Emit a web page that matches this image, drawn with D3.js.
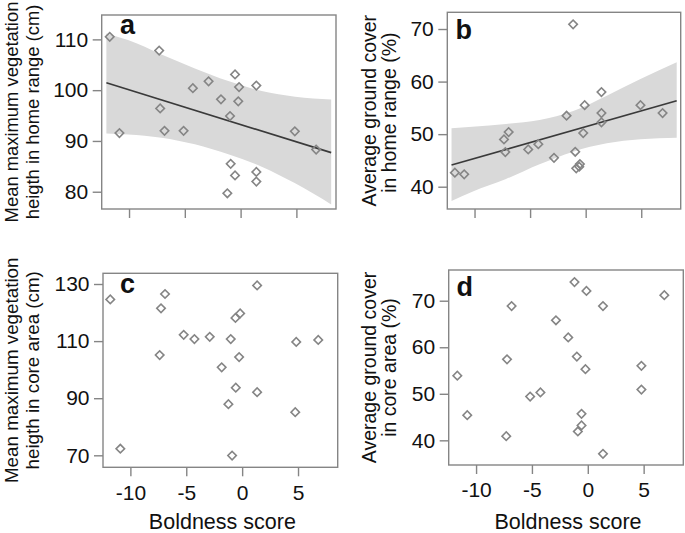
<!DOCTYPE html>
<html>
<head>
<meta charset="utf-8">
<script src="https://cdn.jsdelivr.net/npm/d3@7"></script>
<style>
  html, body { margin: 0; padding: 0; background: #ffffff; }
  svg { display: block; }
  text { font-family: "Liberation Sans", Arial, Helvetica, sans-serif; fill: #111; }
</style>
</head>
<body>
<svg id="chart" width="685" height="533"></svg>
<script>
// ---------------- data ----------------
const xTicks = [-10, -5, 0, 5];
const xTitle = "Boldness score";

// panel a: mean maximum vegetation height in home range
const aTicks = [80, 90, 100, 110];
const aX = [-11.73, -10.86, -7.3, -7.21, -6.82, -5.11, -4.28, -2.87, -1.76, -0.95, -0.5, -0.14, -0.21, 1.41, -0.89, -0.5, -1.19, 1.41, 1.41, 4.86, 6.77];
const aY = [110.5, 91.55, 107.8, 96.4, 92.0, 92.0, 100.4, 101.75, 98.2, 94.9, 103.1, 100.6, 97.8, 100.9, 85.5, 83.2, 79.7, 83.9, 82.0, 91.9, 88.3];
const aBandX = [-12.03, -10.09, -7.09, -4.10, -1.10, 1.89, 4.89, 8.12];
const aBandUpper = [111.17, 109.86, 107.04, 104.29, 101.79, 99.82, 98.71, 98.18];
const aBandLower = [91.49, 91.29, 90.64, 89.33, 87.36, 84.93, 81.65, 77.51];
const aLineX = [-12.03, 8.12];
const aLineY = [101.45, 87.7];

// panel b: average ground cover in home range
const bTicks = [40, 50, 60, 70];
const bX = [-11.77, -10.93, -7.35, -6.93, -7.23, -5.17, -4.26, -2.85, -1.72, -1.13, -0.94, -0.85, -0.52, -0.58, -0.22, -0.09, 1.42, 1.42, 1.42, 4.93, 6.92];
const bY = [42.66, 42.36, 49.0, 50.4, 46.6, 47.1, 48.1, 45.5, 53.5, 70.9, 46.65, 43.5, 44.3, 43.8, 50.2, 55.5, 58.0, 54.0, 52.25, 55.5, 54.0];
const bBandX = [-12.07, -10.2, -7.17, -4.15, -1.12, 1.9, 4.93, 8.19];
const bBandUpper = [51.1, 51.42, 51.93, 52.69, 54.4, 57.32, 60.49, 63.66];
const bBandLower = [37.28, 39.06, 41.47, 44.26, 46.67, 48.25, 49.01, 49.33];
const bLineX = [-12.07, 8.19];
const bLineY = [44.13, 56.36];

// panel c: mean maximum vegetation height in core area
const cTicks = [70, 90, 110, 130];
const cX = [-11.8, -10.9, -6.9, -7.26, -7.38, -5.23, -4.27, -2.9, -1.83, -1.02, -1.23, -0.9, -0.57, -0.6, -0.18, -0.27, 1.34, 1.34, 4.84, 4.75, 6.81];
const cY = [124.6, 72.3, 126.5, 121.5, 105.1, 112.2, 110.7, 111.5, 100.8, 110.7, 87.9, 69.9, 93.7, 118.1, 119.7, 104.4, 129.5, 92.1, 109.7, 85.1, 110.4];

// panel d: average ground cover in core area
const dTicks = [40, 50, 60, 70];
const dX = [-11.68, -10.79, -6.82, -7.23, -7.3, -5.16, -4.24, -2.85, -1.75, -1.19, -0.98, -0.12, -0.21, -0.56, -0.56, -0.89, 1.36, 1.36, 4.8, 4.8, 6.85];
const dY = [53.9, 45.4, 68.86, 57.4, 40.9, 49.4, 50.3, 65.8, 62.1, 74.0, 58.0, 72.1, 55.3, 45.7, 43.2, 41.9, 68.86, 37.1, 56.0, 50.9, 71.2];

// ---------------- layout ----------------
const xDomain = [-12.45, 8.55];
const panels = [
  { letter: "a", box: {l: 101.7, r: 336, t: 15, b: 209}, yDomain: [76.6, 114.8], yTicks: aTicks,
    xs: aX, ys: aY, band: {x: aBandX, up: aBandUpper, lo: aBandLower}, line: {x: aLineX, y: aLineY},
    title: ["Mean maximum vegetation", "heigth in home range (cm)"], titleX: [18.3, 38.5], titleDy: [0, 0],
    titleSize: 18.4, letterPos: [120, 33.5], xLabels: false },
  { letter: "b", box: {l: 447.3, r: 680.7, t: 12.3, b: 209}, yDomain: [35.76, 73.18], yTicks: bTicks,
    xs: bX, ys: bY, band: {x: bBandX, up: bBandUpper, lo: bBandLower}, line: {x: bLineX, y: bLineY},
    title: ["Average ground cover", "in home range (%)"], titleX: [376, 396], titleDy: [0, 2],
    titleSize: 19.5, letterPos: [455.5, 39], xLabels: false },
  { letter: "c", box: {l: 103, r: 337.7, t: 273.3, b: 467.3}, yDomain: [65.8, 133.75], yTicks: cTicks,
    xs: cX, ys: cY, band: null, line: null,
    title: ["Mean maximum vegetation", "heigth in core area (cm)"], titleX: [18.3, 38.5], titleDy: [0, 0],
    titleSize: 18.8, letterPos: [120, 292.5], xLabels: true },
  { letter: "d", box: {l: 448.7, r: 683.3, t: 270, b: 465}, yDomain: [34.7, 76.6], yTicks: dTicks,
    xs: dX, ys: dY, band: null, line: null,
    title: ["Average ground cover", "in core area (%)"], titleX: [376, 396], titleDy: [0, 0],
    titleSize: 19.5, letterPos: [456.5, 296], xLabels: true }
];

const GRAY = "#858585";
const svg = d3.select("#chart");
svg.append("rect").attr("width", 685).attr("height", 533).attr("fill", "#fff");

panels.forEach(p => {
  const B = p.box;
  const x = d3.scaleLinear().domain(xDomain).range([B.l, B.r]);
  const y = d3.scaleLinear().domain(p.yDomain).range([B.b, B.t]);
  const g = svg.append("g");

  // confidence band
  if (p.band) {
    const bandData = p.band.x.map((v, i) => ({x: v, up: p.band.up[i], lo: p.band.lo[i]}));
    g.append("path").datum(bandData)
      .attr("fill", "#d9d9d9")
      .attr("d", d3.area().curve(d3.curveMonotoneX)
        .x(d => x(d.x)).y0(d => y(d.lo)).y1(d => y(d.up)));
  }
  // regression line
  if (p.line) {
    const lineData = p.line.x.map((v, i) => ({x: v, y: p.line.y[i]}));
    g.append("path").datum(lineData)
      .attr("fill", "none").attr("stroke", "#3a3a3a").attr("stroke-width", 1.7)
      .attr("d", d3.line().x(d => x(d.x)).y(d => y(d.y)));
  }

  // points (open diamonds)
  const sym = d3.symbol().type(d3.symbolSquare).size(36);
  g.selectAll("path.pt").data(p.xs.map((v, i) => ({x: v, y: p.ys[i]})))
    .enter().append("path").attr("class", "pt")
    .attr("d", sym)
    .attr("transform", d => `translate(${x(d.x)},${y(d.y)}) rotate(45)`)
    .attr("fill", "none").attr("stroke", GRAY).attr("stroke-width", 1.6);

  // box
  g.append("rect").attr("x", B.l).attr("y", B.t)
    .attr("width", B.r - B.l).attr("height", B.b - B.t)
    .attr("fill", "none").attr("stroke", GRAY).attr("stroke-width", 1.4);

  // x axis
  const xAxis = d3.axisBottom(x).tickValues(xTicks).tickSize(9).tickPadding(8.5)
    .tickFormat(p.xLabels ? (d => d3.format("")(d).replace("−", "-")) : () => "");
  const gx = g.append("g").attr("transform", `translate(0,${B.b})`).call(xAxis);
  gx.select(".domain").remove();
  gx.selectAll(".tick line").attr("stroke", GRAY).attr("stroke-width", 1.4);
  gx.selectAll(".tick text").attr("font-size", 21).attr("fill", "#111")
    .attr("font-family", "'Liberation Sans', Arial, sans-serif");

  // y axis
  const yAxis = d3.axisLeft(y).tickValues(p.yTicks).tickSize(9).tickPadding(4.5);
  const gy = g.append("g").attr("transform", `translate(${B.l},0)`).call(yAxis);
  gy.select(".domain").remove();
  gy.selectAll(".tick line").attr("stroke", GRAY).attr("stroke-width", 1.4);
  gy.selectAll(".tick text").attr("font-size", 21).attr("fill", "#111")
    .attr("font-family", "'Liberation Sans', Arial, sans-serif");

  // panel letter
  g.append("text").attr("x", p.letterPos[0]).attr("y", p.letterPos[1])
    .attr("font-size", 27).attr("font-weight", "bold").text(p.letter);

  // y title (two lines)
  const cy = (B.t + B.b) / 2;
  p.title.forEach((t, i) => {
    g.append("text")
      .attr("transform", `translate(${p.titleX[i]},${cy + p.titleDy[i]}) rotate(-90)`)
      .attr("text-anchor", "middle").attr("font-size", p.titleSize).text(t);
  });

  // x title
  if (p.xLabels) {
    g.append("text").attr("x", (B.l + B.r) / 2 + 2).attr("y", 528.5)
      .attr("text-anchor", "middle").attr("font-size", 21.5).text(xTitle);
  }
});
</script>
</body>
</html>
